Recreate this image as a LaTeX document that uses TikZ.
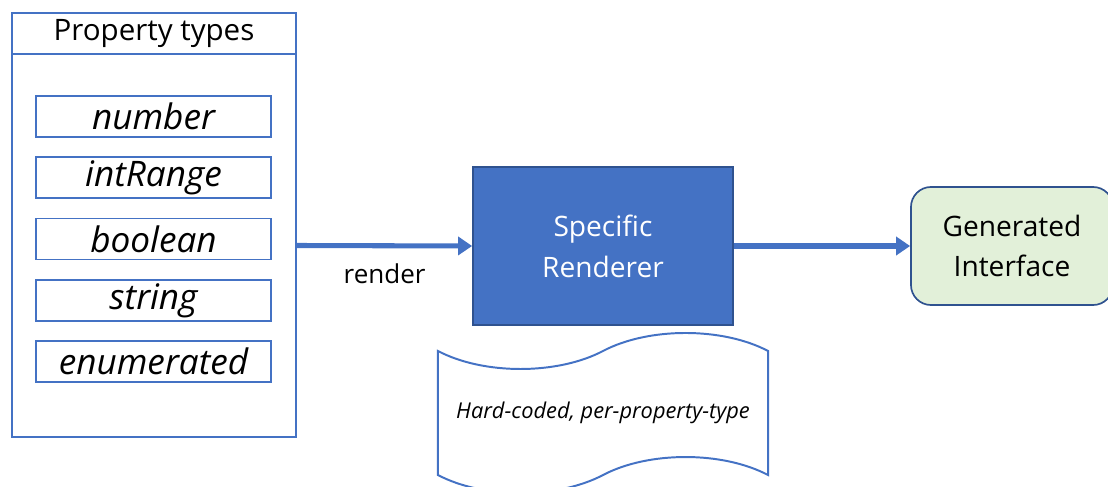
\documentclass[tikz,border=0pt]{standalone}
\usepackage{fontspec}
\setmainfont{Open Sans}
\usetikzlibrary{arrows.meta,shapes.symbols}

\definecolor{lineblue}{HTML}{4472C4}
\definecolor{darkblue}{HTML}{2F528F}
\definecolor{palegreen}{HTML}{E2F0D9}

\tikzset{
  typebox/.style={draw=lineblue, line width=1.4pt, minimum width=5.875cm, minimum height=1.025cm,
    inner sep=0pt, font=\fontsize{25}{28}\selectfont\itshape},
  listbox/.style={draw=lineblue, line width=1.4pt, minimum width=7.1cm, inner sep=0pt},
  flow/.style={draw=lineblue, line width=3.6pt, -{Triangle[length=0.35cm, width=0.45cm]}},
}

\begin{document}
\begin{tikzpicture}[x=0.025cm, y=-0.025cm]
				\useasboundingbox (0,0) rectangle (1108,486);

				% Property types
				\node[listbox, minimum height=1.025cm, font=\fontsize{21}{24}\selectfont] (types) at (154,33.5) {Property types};
				\node[listbox, minimum height=9.575cm] (typesbody) at (154,245.5) {};
				\foreach \name/\ypos/\label in {number/116.5/number, intrange/177.5/intRange, boolean/239/boolean,
				  string/300.5/string, enumerated/361.5/enumerated}
				  \node[typebox] (\name) at (153.5,\ypos) {\label};

				% Renderer
				\node[draw=darkblue, line width=1.2pt, fill=lineblue, text=white, minimum width=6.5cm, minimum height=3.95cm,
				  align=center, font=\fontsize{20}{29}\selectfont] (renderer) at (603,246) {Specific\\Renderer};
				\node[tape, draw=lineblue, line width=1.4pt, minimum width=8.25cm, minimum height=4cm, tape bend height=0.9cm,
				  font=\fontsize{15.5}{18}\selectfont\itshape] (code) at (603,413) {Hard-coded, per-property-type};

				% Interface
				\node[draw=darkblue, line width=1.2pt, fill=palegreen, rounded corners=0.5cm, minimum width=5.05cm,
				  minimum height=2.95cm, align=center, font=\fontsize{20}{29}\selectfont] (iface) at (1012,246) {Generated\\Interface};

				\draw[flow] (typesbody.east) -- node[below=8pt, font=\fontsize{18.5}{22}\selectfont] (renderlabel) {render} (renderer.west);
				\draw[flow] (renderer.east) -- (iface.west);
			\end{tikzpicture}
\end{document}
